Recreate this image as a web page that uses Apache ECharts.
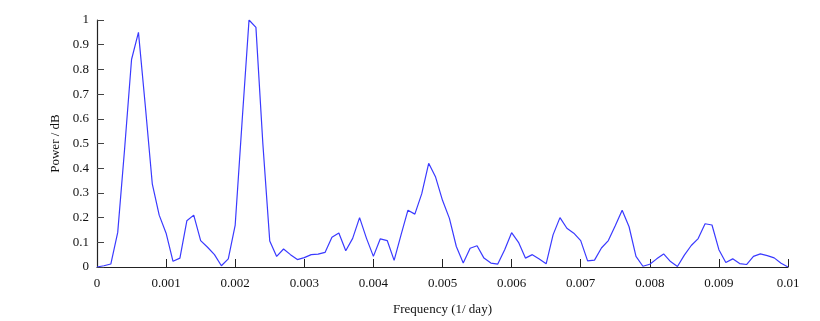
<!DOCTYPE html>
<html>
<head>
<meta charset="utf-8">
<script src="https://cdn.jsdelivr.net/npm/echarts@6/dist/echarts.min.js"></script>
<style>
  html, body { margin: 0; padding: 0; background: #fff; }
  #chart { width: 820px; height: 321px; }
</style>
</head>
<body>
<div id="chart"></div>
<script>
// frequency samples are spaced 0.0001 (1/day) apart, from 0 to 0.01
const freqStart = 0
const freqStep = 0.0001

// power, one value per frequency sample
const power = [
  0.0, 0.005, 0.012, 0.14, 0.48, 0.84, 0.95, 0.65, 0.337, 0.21,
  0.137, 0.023, 0.036, 0.187, 0.21, 0.107, 0.08, 0.05, 0.005, 0.033,
  0.17, 0.59, 1.0, 0.97, 0.5, 0.105, 0.043, 0.073, 0.05, 0.03,
  0.038, 0.05, 0.052, 0.059, 0.12, 0.138, 0.066, 0.116, 0.2, 0.116,
  0.043, 0.114, 0.107, 0.027, 0.13, 0.23, 0.214, 0.297, 0.42, 0.364,
  0.27, 0.197, 0.083, 0.016, 0.076, 0.086, 0.036, 0.016, 0.012, 0.07,
  0.139, 0.1, 0.036, 0.05, 0.032, 0.013, 0.13, 0.2, 0.157, 0.137,
  0.107, 0.025, 0.028, 0.077, 0.107, 0.167, 0.23, 0.163, 0.043, 0.003,
  0.011, 0.033, 0.053, 0.022, 0.002, 0.048, 0.087, 0.115, 0.175, 0.17,
  0.07, 0.018, 0.033, 0.014, 0.01, 0.043, 0.053, 0.046, 0.037, 0.015,
  0.0
]

const xTicks = { min: 0, max: 0.01, interval: 0.001 }
const yTicks = { min: 0, max: 1, interval: 0.1 }

const points = power.map((p, i) => [+(freqStart + i * freqStep).toFixed(4), p])

const font = '"Liberation Serif", "DejaVu Serif", serif'
const axisColor = '#222'

const chart = echarts.init(document.getElementById('chart'), null, { renderer: 'canvas' })

chart.setOption({
  animation: false,
  backgroundColor: '#fff',
  grid: { left: 97, right: 32, top: 20, bottom: 52, containLabel: false },
  xAxis: {
    type: 'value',
    min: xTicks.min,
    max: xTicks.max,
    interval: xTicks.interval,
    name: 'Frequency (1/ day)',
    nameLocation: 'middle',
    nameGap: 36,
    nameTextStyle: { color: '#111', fontSize: 13, fontFamily: font },
    axisLine: { onZero: false, lineStyle: { color: axisColor, width: 1.2 } },
    axisTick: { inside: true, length: 8, lineStyle: { color: axisColor } },
    axisLabel: {
      color: '#111', fontSize: 13, fontFamily: font, margin: 10,
      formatter: v => String(+v.toFixed(3))
    },
    splitLine: { show: false }
  },
  yAxis: {
    type: 'value',
    min: yTicks.min,
    max: yTicks.max,
    interval: yTicks.interval,
    name: 'Power / dB',
    nameLocation: 'middle',
    nameGap: 34,
    nameTextStyle: { color: '#111', fontSize: 13, fontFamily: font },
    axisLine: { show: true, lineStyle: { color: axisColor, width: 1.2 } },
    axisTick: { show: true, inside: true, length: 7, lineStyle: { color: '#444' } },
    axisLabel: {
      color: '#111', fontSize: 13, fontFamily: font, margin: 8,
      formatter: v => String(+v.toFixed(1))
    },
    splitLine: { show: false }
  },
  series: [
    {
      type: 'line',
      data: points,
      showSymbol: false,
      smooth: false,
      lineStyle: { color: '#3a3aff', width: 1.2 },
      itemStyle: { color: '#3a3aff' }
    }
  ]
})
</script>
</body>
</html>
